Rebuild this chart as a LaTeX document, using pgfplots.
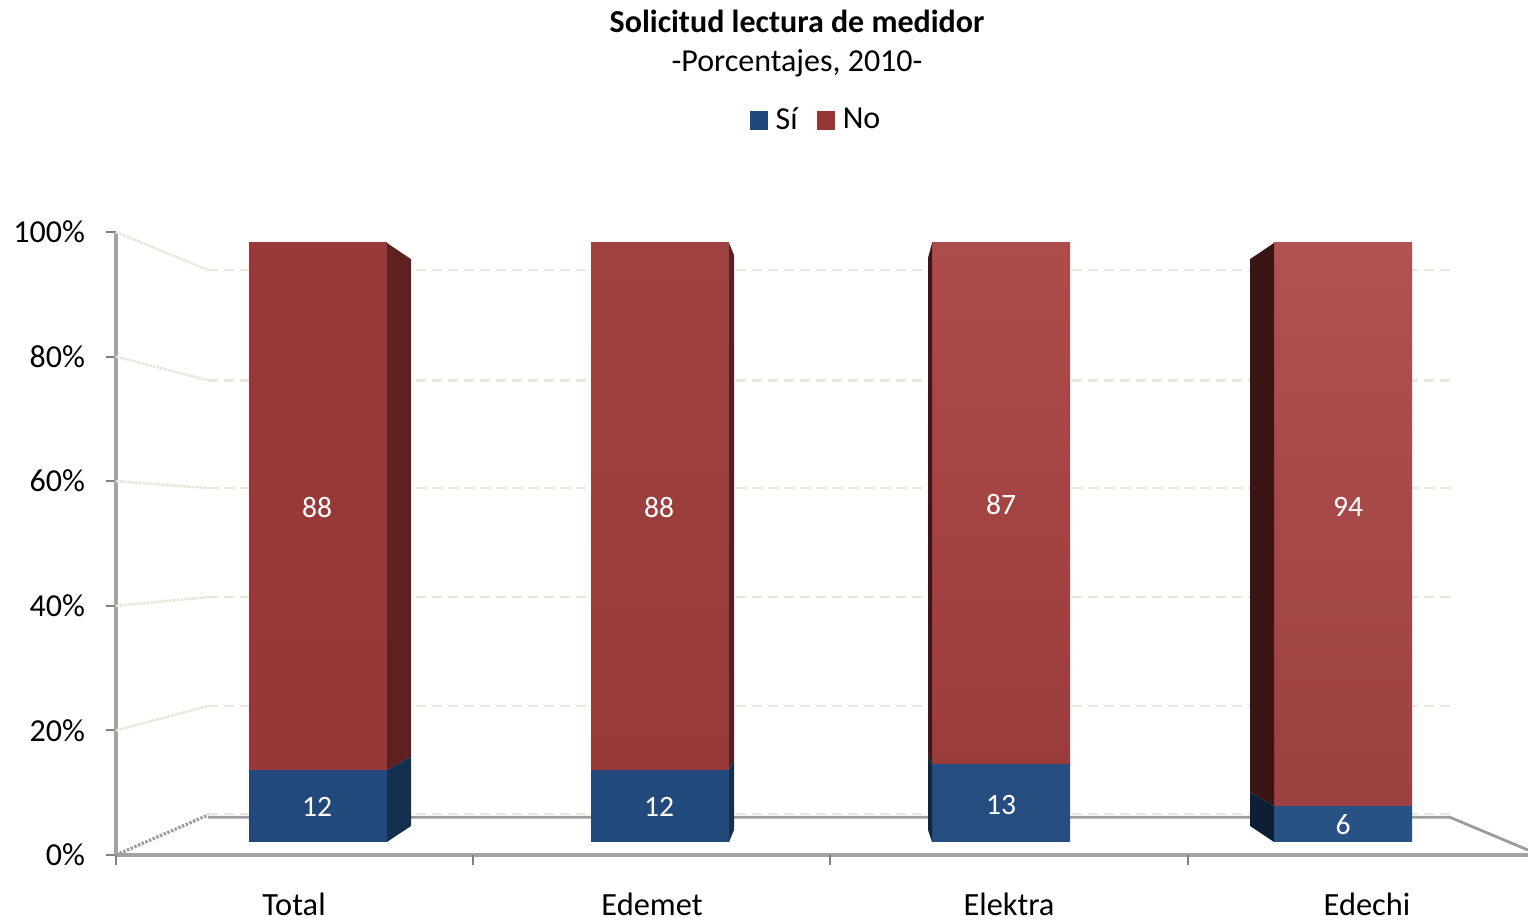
\documentclass[border=0pt]{standalone}
\usepackage{pgfplots}
\pgfplotsset{compat=1.18}
\usepackage{fontspec}
\setmainfont{Carlito}
\definecolor{axisgray}{HTML}{A3A3A3}
\definecolor{tickgray}{HTML}{808080}
\definecolor{wall}{HTML}{E8E8DA}
\definecolor{floorgray}{HTML}{9C9C9C}
\definecolor{siL}{HTML}{1F497D}
\definecolor{noL}{HTML}{953735}
\definecolor{siA}{HTML}{22497C}
\definecolor{siB}{HTML}{234A7D}
\definecolor{siC}{HTML}{254D80}
\definecolor{siD}{HTML}{295284}
\pgfplotsset{
  full/.style={scale only axis, width=764pt, height=460pt, at={(0pt,0pt)}, anchor=south west,
    xmin=0, xmax=1528, ymin=-13.022, ymax=140.568, hide axis, clip=false},
  stackbar/.style={full, ybar stacked, bar width=69pt},
}
\begin{document}
\begin{tikzpicture}
\path[use as bounding box] (0pt,0pt) rectangle (764pt,460pt);
% frame: x in the picture's pixel scale, y in percent
\begin{axis}[scale only axis, width=706pt, height=311.5pt, at={(58pt,32.5pt)}, anchor=south west,
  xmin=116, xmax=1528, ymin=0, ymax=100, axis x line=bottom, axis y line=left,
  axis line style={-, axisgray, line width=1.9pt}, clip=false,
  ytick={0,20,40,60,80,100}, yticklabels={0\%,20\%,40\%,60\%,80\%,100\%},
  xtick={294,652,1009,1367}, xticklabels={Total,Edemet,Elektra,Edechi},
  extra x ticks={116,473,830,1188}, extra x tick labels={},
  extra tick style={major tick length=5pt, tick style={tickgray, line width=1pt}},
  major tick length=0pt, tick align=outside,
  ytick style={tickgray, line width=1pt, /pgfplots/major tick length=5pt},
  x tick label style={font=\fontsize{16.2}{18}\selectfont, inner sep=0pt, yshift=-19pt},
  y tick label style={font=\fontsize{16}{18}\selectfont, xshift=-12pt},
]
% floor
\addplot[floorgray, line width=1.4pt, forget plot] coordinates {(208,6.05)(1450,6.05)(1528,0.8)};
\addplot[wall, line width=1.1pt, dash pattern=on 5pt off 3pt, forget plot] coordinates {(208,6.55)(1450,6.55)};
\addplot[floorgray, line width=1.6pt, dash pattern=on 1.2pt off 0.8pt, forget plot] coordinates {(116,0)(208,6.42)};
% wall grid
\addplot[wall, line width=1.4pt, dash pattern=on 5pt off 3pt, forget plot] coordinates {(208,23.9)(1450,23.9)};
\addplot[wall, line width=1.4pt, dash pattern=on 5pt off 3pt, forget plot] coordinates {(208,41.4)(1450,41.4)};
\addplot[wall, line width=1.4pt, dash pattern=on 5pt off 3pt, forget plot] coordinates {(208,58.9)(1450,58.9)};
\addplot[wall, line width=1.4pt, dash pattern=on 5pt off 3pt, forget plot] coordinates {(208,76.2)(1450,76.2)};
\addplot[wall, line width=1.4pt, dash pattern=on 5pt off 3pt, forget plot] coordinates {(208,93.9)(1450,93.9)};
\addplot[wall, line width=1.3pt, dash pattern=on 1.5pt off 0.4pt, forget plot] coordinates {(116,20)(208,23.9)};
\addplot[wall, line width=1.3pt, dash pattern=on 1.5pt off 0.4pt, forget plot] coordinates {(116,40)(208,41.4)};
\addplot[wall, line width=1.3pt, dash pattern=on 1.5pt off 0.4pt, forget plot] coordinates {(116,60)(208,58.9)};
\addplot[wall, line width=1.3pt, dash pattern=on 1.5pt off 0.4pt, forget plot] coordinates {(116,80)(208,76.2)};
\addplot[wall, line width=1.3pt, dash pattern=on 1.5pt off 0.4pt, forget plot] coordinates {(116,100)(208,93.9)};
\end{axis}
% the four stacked bars
\begin{axis}[stackbar]
\addplot[draw=none, top color=siA, bottom color=siA] coordinates {(318,12)};
\addplot[draw=none, top color={rgb,255:red,153;green,58;blue,58}, bottom color={rgb,255:red,150;green,56;blue,56}] coordinates {(318,88)};
\end{axis}
\begin{axis}[stackbar]
\addplot[draw=none, top color=siB, bottom color=siB] coordinates {(660,12)};
\addplot[draw=none, top color={rgb,255:red,160;green,66;blue,66}, bottom color={rgb,255:red,152;green,58;blue,58}] coordinates {(660,88)};
\end{axis}
\begin{axis}[stackbar]
\addplot[draw=none, top color=siC, bottom color=siC] coordinates {(1001,13)};
\addplot[draw=none, top color={rgb,255:red,172;green,76;blue,75}, bottom color={rgb,255:red,155;green,60;blue,60}] coordinates {(1001,87)};
\end{axis}
\begin{axis}[stackbar]
\addplot[draw=none, top color=siD, bottom color=siD] coordinates {(1343,6)};
\addplot[draw=none, top color={rgb,255:red,177;green,81;blue,80}, bottom color={rgb,255:red,156;green,64;blue,64}] coordinates {(1343,94)};
\end{axis}
% side faces, value labels, titles and legend
\begin{axis}[full,
  title={\textbf{Solicitud lectura de medidor}\\-Porcentajes, 2010-},
  title style={at={(0.5216,1)}, anchor=north, align=center, inner sep=0pt, yshift=-11pt,
    font=\fontsize{16}{19.5}\selectfont},
  legend style={at={(0.5347,0.8695)}, anchor=center, draw=none, fill=none, legend columns=2,
    font=\fontsize{16}{18}\selectfont, inner sep=0pt,
    /tikz/every even column/.append style={column sep=7.5pt}},
  legend image code/.code={\fill[#1] (0pt,-4.5pt) rectangle (8.6pt,4.1pt); \path (10.6pt,0pt);},
  nodes near coords align={center},
  every node near coord/.append style={white, font=\fontsize{14.8}{17}\selectfont},
]
\addlegendimage{siL}
\addlegendentry{Sí}
\addlegendimage{noL}
\addlegendentry{No}
\addplot[forget plot, draw=none, fill={rgb,255:red,94;green,33;blue,32}] coordinates {(387,12)(411,14.2)(411,97.3)(387,100)} -- cycle;
\addplot[forget plot, draw=none, fill={rgb,255:red,20;green,48;blue,80}] coordinates {(387,0)(411,2.67)(411,14.2)(387,12)} -- cycle;
\addplot[forget plot, draw=none, fill={rgb,255:red,90;green,32;blue,32}] coordinates {(729,12)(734,13.9)(734,98)(729,100)} -- cycle;
\addplot[forget plot, draw=none, fill={rgb,255:red,20;green,48;blue,80}] coordinates {(729,0)(734,2)(734,13.9)(729,12)} -- cycle;
\addplot[forget plot, draw=none, fill={rgb,255:red,66;green,22;blue,22}] coordinates {(932,13)(928,14.7)(928,97.5)(932,100)} -- cycle;
\addplot[forget plot, draw=none, fill={rgb,255:red,16;green,38;blue,66}] coordinates {(932,0)(928,2)(928,14.7)(932,13)} -- cycle;
\addplot[forget plot, draw=none, fill={rgb,255:red,59;green,21;blue,20}] coordinates {(1274,6)(1250,8.35)(1250,97.3)(1274,100)} -- cycle;
\addplot[forget plot, draw=none, fill={rgb,255:red,12;green,31;blue,53}] coordinates {(1274,0)(1250,2.67)(1250,8.35)(1274,6)} -- cycle;
\addplot[forget plot, draw=none, mark=none, nodes near coords, point meta=explicit symbolic]
  coordinates {(317,55.9)[88] (659,55.9)[88] (1001,56.4)[87] (1348,56.0)[94]
               (317,5.85)[12] (659,5.85)[12] (1001,6.15)[13] (1343,2.85)[6]};
\end{axis}
\end{tikzpicture}
\end{document}
